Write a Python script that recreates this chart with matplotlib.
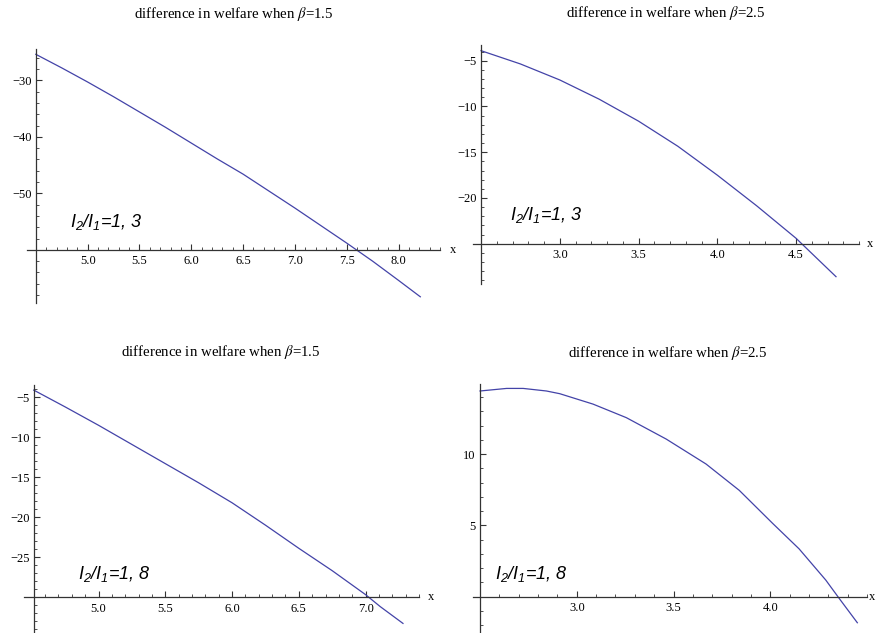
import matplotlib
matplotlib.use("Agg")
import matplotlib.pyplot as plt
from matplotlib.ticker import FixedLocator, MultipleLocator, FuncFormatter

plt.rcParams['font.family'] = ['Liberation Serif', 'DejaVu Serif']
plt.rcParams['mathtext.fontset'] = 'custom'
plt.rcParams['mathtext.it'] = 'Liberation Sans:italic'
plt.rcParams['mathtext.rm'] = 'Liberation Sans:italic'

# ---------------- data ----------------
titles = ["difference in welfare when $\\beta$=1.5",
          "difference in welfare when $\\beta$=2.5",
          "difference in welfare when $\\beta$=1.5",
          "difference in welfare when $\\beta$=2.5"]
ratio_labels = ["1, 3", "1, 3", "1, 8", "1, 8"]

x1 = [4.5, 4.75, 5.0, 5.25, 5.5, 5.75, 6.0, 6.25, 6.5, 6.75, 7.0, 7.25, 7.5, 7.75, 8.0, 8.21]
y1 = [-25.4, -27.8, -30.3, -32.9, -35.6, -38.3, -41.1, -43.9, -46.6, -49.6, -52.6, -55.7, -58.8, -62.0, -65.4, -68.3]

x2 = [2.5, 2.75, 3.0, 3.25, 3.5, 3.75, 4.0, 4.25, 4.5, 4.754]
y2 = [-3.9, -5.35, -7.1, -9.2, -11.6, -14.35, -17.5, -20.85, -24.4, -28.6]

x3 = [4.515, 4.75, 5.0, 5.25, 5.5, 5.75, 6.0, 6.25, 6.5, 6.75, 7.0, 7.11, 7.28]
y3 = [-4.1, -6.2, -8.5, -10.9, -13.3, -15.7, -18.2, -21.0, -23.9, -26.7, -29.7, -31.2, -33.3]

x4 = [2.5, 2.637, 2.723, 2.843, 2.912, 3.084, 3.256, 3.462, 3.668, 3.840, 4.012, 4.149, 4.287, 4.356, 4.45]
y4 = [14.42, 14.6, 14.6, 14.42, 14.23, 13.5, 12.55, 11.05, 9.3, 7.45, 5.14, 3.35, 1.16, -0.12, -1.83]

xticks1 = [5.0, 5.5, 6.0, 6.5, 7.0, 7.5, 8.0]
yticks1 = [-30, -40, -50]
xticks2 = [3.0, 3.5, 4.0, 4.5]
yticks2 = [-5, -10, -15, -20]
xticks3 = [5.0, 5.5, 6.0, 6.5, 7.0]
yticks3 = [-5, -10, -15, -20, -25]
xticks4 = [3.0, 3.5, 4.0]
yticks4 = [5, 10]

# --------------- layout (pixels) ---------------
W, H = 876, 633
fig = plt.figure(figsize=(W / 100, H / 100), dpi=100)

LINE = '#4343a8'
AX = '#333333'

panels = [
    dict(x=x1, y=y1, rect=(27, 49, 440, 303), xlim=(4.415, 8.30), ylim=(-69.4, -24.46),
         x0=4.5, y0=-60, mx=0.1, my=2, xt=xticks1, yt=yticks1,
         title=titles[0], tpos=(233.5, 14), lab=ratio_labels[0], lpos=(70, 222), xlabel_off=13),
    dict(x=x2, y=y2, rect=(473.3, 45, 859, 284), xlim=(2.451, 4.803), ylim=(-29.4, -3.28),
         x0=2.5, y0=-25, mx=0.1, my=1, xt=xticks2, yt=yticks2,
         title=titles[1], tpos=(665.7, 13), lab=ratio_labels[1], lpos=(510, 215), xlabel_off=11),
    dict(x=x3, y=y3, rect=(24, 385, 419, 633), xlim=(4.442, 7.343), ylim=(-34.5, -3.46),
         x0=4.515, y0=-30, mx=0.1, my=1, xt=xticks3, yt=yticks3,
         title=titles[2], tpos=(221, 352), lab=ratio_labels[2], lpos=(78, 574), xlabel_off=12),
    dict(x=x4, y=y4, rect=(472.7, 384, 867, 633), xlim=(2.462, 4.496), ylim=(-2.55, 14.91),
         x0=2.5, y0=0, mx=0.1, my=1, xt=xticks4, yt=yticks4,
         title=titles[3], tpos=(668, 352.5), lab=ratio_labels[3], lpos=(495, 574), xlabel_off=5),
]

xfmt = FuncFormatter(lambda v, pos: ('%.1f' % v).replace('-', '\u2212'))
yfmt = FuncFormatter(lambda v, pos: ('%d' % round(v)).replace('-', '\u2212'))

for p in panels:
    l, t, r, b = p['rect']
    ax = fig.add_axes([l / W, (H - b) / H, (r - l) / W, (b - t) / H])
    ax.patch.set_alpha(0)
    ax.plot(p['x'], p['y'], color=LINE, lw=0.9, clip_on=False)
    ax.set_xlim(*p['xlim'])
    ax.set_ylim(*p['ylim'])
    for s in ('top', 'right'):
        ax.spines[s].set_visible(False)
    ax.spines['left'].set_position(('data', p['x0']))
    ax.spines['bottom'].set_position(('data', p['y0']))
    for s in ('left', 'bottom'):
        ax.spines[s].set_color(AX)
        ax.spines[s].set_linewidth(0.9)
    ax.xaxis.set_major_locator(FixedLocator(p['xt']))
    ax.yaxis.set_major_locator(FixedLocator(p['yt']))
    ax.xaxis.set_minor_locator(MultipleLocator(p['mx']))
    ax.yaxis.set_minor_locator(MultipleLocator(p['my']))
    ax.xaxis.set_major_formatter(xfmt)
    ax.yaxis.set_major_formatter(yfmt)
    ax.tick_params(which='major', direction='in', length=4.5, width=0.8, color=AX,
                   labelsize=9, pad=3)
    ax.tick_params(which='minor', direction='in', length=2.4, width=0.6, color=AX)
    ax.tick_params(axis='x', which='major', pad=4)
    ax.set_xticks([v for v in ax.get_xticks(minor=True) if v > p['x0'] + 1e-6], minor=True)
    for lbl in ax.get_xticklabels() + ax.get_yticklabels():
        lbl.set_fontfamily('Liberation Serif')
    ax.annotate('x', xy=(1.0, p['y0']), xycoords=('axes fraction', 'data'),
                xytext=(p['xlabel_off'], 0), textcoords='offset pixels',
                ha='center', va='center', fontsize=9, annotation_clip=False)
    fig.text(p['tpos'][0] / W, 1 - p['tpos'][1] / H, p['title'], ha='center', va='center',
             fontsize=10.7, family='Liberation Serif', math_fontfamily='stix')
    fig.text(p['lpos'][0] / W, 1 - p['lpos'][1] / H, '$I_2/I_1$=' + p['lab'],
             ha='left', va='center', fontsize=13, family='Liberation Sans', style='italic',
             math_fontfamily='custom')

fig.savefig('out.png', dpi=100)
